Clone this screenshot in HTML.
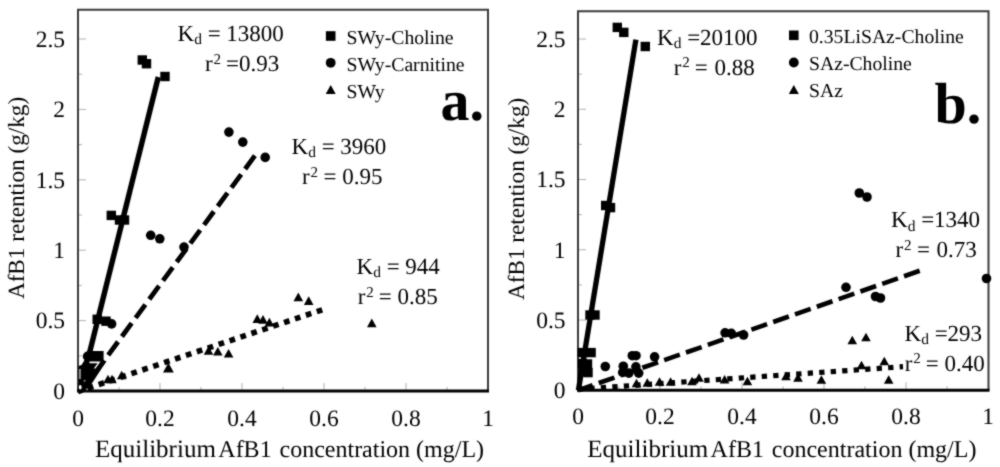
<!DOCTYPE html>
<html><head><meta charset="utf-8"><style>
html,body{margin:0;padding:0;background:#fff;}
svg{display:block;}
#w{width:1000px;height:467px;}
text{font-family:"Liberation Serif", serif;fill:#000;white-space:pre;text-rendering:geometricPrecision;}
</style></head><body><div id="w">
<svg width="1000" height="467" viewBox="0 0 1000 467">
<defs><filter id="soft" x="0" y="0" width="1000" height="467" filterUnits="userSpaceOnUse" color-interpolation-filters="sRGB"><feConvolveMatrix order="3" kernelMatrix="1 2 1 2 12 2 1 2 1" edgeMode="duplicate" preserveAlpha="true"/></filter></defs>
<g filter="url(#soft)">
<rect width="1000" height="467" fill="#fff"/>
<line x1="78" y1="355.80" x2="82" y2="355.80" stroke="#b0b0b0" stroke-width="1"/>
<line x1="78" y1="320.60" x2="86" y2="320.60" stroke="#b0b0b0" stroke-width="1"/>
<line x1="78" y1="285.40" x2="82" y2="285.40" stroke="#b0b0b0" stroke-width="1"/>
<line x1="78" y1="250.20" x2="86" y2="250.20" stroke="#b0b0b0" stroke-width="1"/>
<line x1="78" y1="215.00" x2="82" y2="215.00" stroke="#b0b0b0" stroke-width="1"/>
<line x1="78" y1="179.80" x2="86" y2="179.80" stroke="#b0b0b0" stroke-width="1"/>
<line x1="78" y1="144.60" x2="82" y2="144.60" stroke="#b0b0b0" stroke-width="1"/>
<line x1="78" y1="109.40" x2="86" y2="109.40" stroke="#b0b0b0" stroke-width="1"/>
<line x1="78" y1="74.20" x2="82" y2="74.20" stroke="#b0b0b0" stroke-width="1"/>
<line x1="78" y1="39.00" x2="86" y2="39.00" stroke="#b0b0b0" stroke-width="1"/>
<line x1="119.00" y1="391" x2="119.00" y2="387" stroke="#b0b0b0" stroke-width="1"/>
<line x1="160.00" y1="391" x2="160.00" y2="383" stroke="#b0b0b0" stroke-width="1"/>
<line x1="201.00" y1="391" x2="201.00" y2="387" stroke="#b0b0b0" stroke-width="1"/>
<line x1="242.00" y1="391" x2="242.00" y2="383" stroke="#b0b0b0" stroke-width="1"/>
<line x1="283.00" y1="391" x2="283.00" y2="387" stroke="#b0b0b0" stroke-width="1"/>
<line x1="324.00" y1="391" x2="324.00" y2="383" stroke="#b0b0b0" stroke-width="1"/>
<line x1="365.00" y1="391" x2="365.00" y2="387" stroke="#b0b0b0" stroke-width="1"/>
<line x1="406.00" y1="391" x2="406.00" y2="383" stroke="#b0b0b0" stroke-width="1"/>
<line x1="447.00" y1="391" x2="447.00" y2="387" stroke="#b0b0b0" stroke-width="1"/>
<path d="M78 391V9.7H488V391" fill="none" stroke="#3a3a3a" stroke-width="2"/>
<line x1="77" y1="391" x2="489" y2="391" stroke="#000" stroke-width="3"/>
<line x1="578" y1="355.17" x2="582" y2="355.17" stroke="#b0b0b0" stroke-width="1"/>
<line x1="578" y1="320.04" x2="586" y2="320.04" stroke="#b0b0b0" stroke-width="1"/>
<line x1="578" y1="284.91" x2="582" y2="284.91" stroke="#b0b0b0" stroke-width="1"/>
<line x1="578" y1="249.78" x2="586" y2="249.78" stroke="#b0b0b0" stroke-width="1"/>
<line x1="578" y1="214.65" x2="582" y2="214.65" stroke="#b0b0b0" stroke-width="1"/>
<line x1="578" y1="179.52" x2="586" y2="179.52" stroke="#b0b0b0" stroke-width="1"/>
<line x1="578" y1="144.39" x2="582" y2="144.39" stroke="#b0b0b0" stroke-width="1"/>
<line x1="578" y1="109.26" x2="586" y2="109.26" stroke="#b0b0b0" stroke-width="1"/>
<line x1="578" y1="74.13" x2="582" y2="74.13" stroke="#b0b0b0" stroke-width="1"/>
<line x1="578" y1="39.00" x2="586" y2="39.00" stroke="#b0b0b0" stroke-width="1"/>
<line x1="619.00" y1="390.3" x2="619.00" y2="386.3" stroke="#b0b0b0" stroke-width="1"/>
<line x1="660.00" y1="390.3" x2="660.00" y2="382.3" stroke="#b0b0b0" stroke-width="1"/>
<line x1="701.00" y1="390.3" x2="701.00" y2="386.3" stroke="#b0b0b0" stroke-width="1"/>
<line x1="742.00" y1="390.3" x2="742.00" y2="382.3" stroke="#b0b0b0" stroke-width="1"/>
<line x1="783.00" y1="390.3" x2="783.00" y2="386.3" stroke="#b0b0b0" stroke-width="1"/>
<line x1="824.00" y1="390.3" x2="824.00" y2="382.3" stroke="#b0b0b0" stroke-width="1"/>
<line x1="865.00" y1="390.3" x2="865.00" y2="386.3" stroke="#b0b0b0" stroke-width="1"/>
<line x1="906.00" y1="390.3" x2="906.00" y2="382.3" stroke="#b0b0b0" stroke-width="1"/>
<line x1="947.00" y1="390.3" x2="947.00" y2="386.3" stroke="#b0b0b0" stroke-width="1"/>
<path d="M578 390.3V11.3H988.5V390.3" fill="none" stroke="#3a3a3a" stroke-width="2"/>
<line x1="577" y1="390.3" x2="989.5" y2="390.3" stroke="#000" stroke-width="3"/>
<text x="65" y="398.7" font-size="23.5" text-anchor="end" font-weight="normal" >0</text>
<text x="65" y="328.3" font-size="23.5" text-anchor="end" font-weight="normal" >0.5</text>
<text x="65" y="257.9" font-size="23.5" text-anchor="end" font-weight="normal" >1</text>
<text x="65" y="187.5" font-size="23.5" text-anchor="end" font-weight="normal" >1.5</text>
<text x="65" y="117.1" font-size="23.5" text-anchor="end" font-weight="normal" >2</text>
<text x="65" y="46.7" font-size="23.5" text-anchor="end" font-weight="normal" >2.5</text>
<text x="78.0" y="425.5" font-size="23.5" text-anchor="middle" font-weight="normal" >0</text>
<text x="160.0" y="425.5" font-size="23.5" text-anchor="middle" font-weight="normal" >0.2</text>
<text x="242.0" y="425.5" font-size="23.5" text-anchor="middle" font-weight="normal" >0.4</text>
<text x="324.0" y="425.5" font-size="23.5" text-anchor="middle" font-weight="normal" >0.6</text>
<text x="406.0" y="425.5" font-size="23.5" text-anchor="middle" font-weight="normal" >0.8</text>
<text x="488.0" y="425.5" font-size="23.5" text-anchor="middle" font-weight="normal" >1</text>
<text x="565.5" y="398.0" font-size="23.5" text-anchor="end" font-weight="normal" >0</text>
<text x="565.5" y="327.7" font-size="23.5" text-anchor="end" font-weight="normal" >0.5</text>
<text x="565.5" y="257.5" font-size="23.5" text-anchor="end" font-weight="normal" >1</text>
<text x="565.5" y="187.2" font-size="23.5" text-anchor="end" font-weight="normal" >1.5</text>
<text x="565.5" y="117.0" font-size="23.5" text-anchor="end" font-weight="normal" >2</text>
<text x="565.5" y="46.7" font-size="23.5" text-anchor="end" font-weight="normal" >2.5</text>
<text x="578.0" y="423.5" font-size="23.5" text-anchor="middle" font-weight="normal" >0</text>
<text x="660.0" y="423.5" font-size="23.5" text-anchor="middle" font-weight="normal" >0.2</text>
<text x="742.0" y="423.5" font-size="23.5" text-anchor="middle" font-weight="normal" >0.4</text>
<text x="824.0" y="423.5" font-size="23.5" text-anchor="middle" font-weight="normal" >0.6</text>
<text x="906.0" y="423.5" font-size="23.5" text-anchor="middle" font-weight="normal" >0.8</text>
<text x="988.0" y="423.5" font-size="23.5" text-anchor="middle" font-weight="normal" >1</text>
<text x="95" y="456.6" font-size="25" text-anchor="start" font-weight="normal" >Equilibrium</text>
<text x="218.3" y="456.6" font-size="24" text-anchor="start" font-weight="normal" >AfB1</text>
<text x="279.5" y="456.6" font-size="24" text-anchor="start" font-weight="normal" >concentration (mg/L)</text>
<text transform="translate(24.3,299.1) rotate(-90)" font-size="23.2">AfB1 retention (g/kg)</text>
<text x="587.3" y="456.6" font-size="25" text-anchor="start" font-weight="normal" >Equilibrium</text>
<text x="710.6" y="456.6" font-size="24" text-anchor="start" font-weight="normal" >AfB1</text>
<text x="771.8" y="456.6" font-size="24" text-anchor="start" font-weight="normal" >concentration (mg/L)</text>
<text transform="translate(524.3,300.0) rotate(-90)" font-size="23.2">AfB1 retention (g/kg)</text>
<line x1="80" y1="391" x2="158.3" y2="77" stroke="#000" stroke-width="5.4" stroke-linecap="butt"/>
<line x1="254.9" y1="155.7" x2="81.8" y2="391" stroke="#000" stroke-width="4.8" stroke-linecap="butt" stroke-dasharray="16.5 6.6" stroke-dashoffset="0"/>
<line x1="78" y1="391.5" x2="324" y2="309.2" stroke="#000" stroke-width="5.6" stroke-linecap="butt" stroke-dasharray="5.7 5.8" stroke-dashoffset="1.2"/>
<line x1="578.4" y1="390.3" x2="635.9" y2="39.6" stroke="#000" stroke-width="5.3" stroke-linecap="butt"/>
<line x1="578" y1="390.3" x2="920.5" y2="270.5" stroke="#000" stroke-width="4.6" stroke-linecap="butt" stroke-dasharray="16.6 6.5" stroke-dashoffset="1.1"/>
<line x1="578" y1="389.3" x2="903" y2="366.7" stroke="#000" stroke-width="5.2" stroke-linecap="butt" stroke-dasharray="5.3 6.22" stroke-dashoffset="0.15"/>
<g fill="#000"><rect x="137.60" y="55.30" width="9.4" height="9.4"/><rect x="141.80" y="59.00" width="9.4" height="9.4"/><rect x="160.30" y="71.80" width="9.4" height="9.4"/><rect x="106.60" y="210.70" width="9.4" height="9.4"/><rect x="114.80" y="215.30" width="9.4" height="9.4"/><rect x="119.80" y="215.30" width="9.4" height="9.4"/><rect x="92.50" y="314.60" width="9.4" height="9.4"/><rect x="101.30" y="316.50" width="9.4" height="9.4"/><rect x="612.60" y="22.70" width="9.4" height="9.4"/><rect x="619.10" y="27.70" width="9.4" height="9.4"/><rect x="640.60" y="41.80" width="9.4" height="9.4"/><rect x="601.00" y="200.80" width="9.4" height="9.4"/><rect x="605.80" y="202.90" width="9.4" height="9.4"/><rect x="585.30" y="310.30" width="9.4" height="9.4"/><rect x="590.30" y="310.30" width="9.4" height="9.4"/><rect x="577.50" y="347.90" width="9.4" height="9.4"/><rect x="586.40" y="347.90" width="9.4" height="9.4"/><rect x="577.80" y="358.80" width="9.4" height="9.4"/><rect x="582.80" y="359.30" width="9.4" height="9.4"/><rect x="578.30" y="366.80" width="9.4" height="9.4"/><rect x="583.30" y="367.90" width="9.4" height="9.4"/><circle cx="228.9" cy="132.1" r="4.8"/><circle cx="242.8" cy="142.1" r="4.8"/><circle cx="265.2" cy="157.4" r="4.8"/><circle cx="150.7" cy="235.3" r="4.8"/><circle cx="159.8" cy="238.8" r="4.8"/><circle cx="184" cy="247.1" r="4.8"/><circle cx="111.6" cy="323.9" r="4.8"/><circle cx="605.3" cy="366.5" r="4.8"/><circle cx="632.3" cy="355.7" r="4.8"/><circle cx="636" cy="355.7" r="4.8"/><circle cx="654.6" cy="356.8" r="4.8"/><circle cx="623.3" cy="366.2" r="4.8"/><circle cx="635.9" cy="366.9" r="4.8"/><circle cx="622.7" cy="372.4" r="4.8"/><circle cx="628.9" cy="373.1" r="4.8"/><circle cx="638.7" cy="373.1" r="4.8"/><circle cx="725.1" cy="332.8" r="4.8"/><circle cx="731.3" cy="333.4" r="4.8"/><circle cx="743.6" cy="335" r="4.8"/><circle cx="846" cy="287.3" r="4.8"/><circle cx="875.5" cy="296.5" r="4.8"/><circle cx="880.5" cy="298" r="4.8"/><circle cx="859.3" cy="193" r="4.8"/><circle cx="867" cy="197" r="4.8"/><circle cx="986.5" cy="278.5" r="4.8"/><path d="M168.40 362.80L173.80 372.40L163.00 372.40Z"/><path d="M208.50 346.20L213.30 354.80L203.70 354.80Z"/><path d="M217.80 346.90L222.60 355.50L213.00 355.50Z"/><path d="M228.60 348.90L233.40 357.50L223.80 357.50Z"/><path d="M257.30 314.30L262.10 322.90L252.50 322.90Z"/><path d="M263.00 315.10L267.80 323.70L258.20 323.70Z"/><path d="M269.40 317.80L274.20 326.40L264.60 326.40Z"/><path d="M298.30 292.60L303.10 301.20L293.50 301.20Z"/><path d="M308.70 296.30L313.50 304.90L303.90 304.90Z"/><path d="M371.80 318.60L376.60 327.20L367.00 327.20Z"/><path d="M108.00 374.70L112.80 383.30L103.20 383.30Z"/><path d="M112.00 374.70L116.80 383.30L107.20 383.30Z"/><path d="M121.70 370.70L126.50 379.30L116.90 379.30Z"/><path d="M636.50 378.70L641.30 387.30L631.70 387.30Z"/><path d="M647.30 378.20L652.10 386.80L642.50 386.80Z"/><path d="M659.50 377.20L664.30 385.80L654.70 385.80Z"/><path d="M670.60 377.20L675.40 385.80L665.80 385.80Z"/><path d="M692.00 376.70L696.80 385.30L687.20 385.30Z"/><path d="M699.00 373.20L703.80 381.80L694.20 381.80Z"/><path d="M724.60 375.00L729.40 383.60L719.80 383.60Z"/><path d="M747.40 376.70L752.20 385.30L742.60 385.30Z"/><path d="M786.00 371.70L790.80 380.30L781.20 380.30Z"/><path d="M798.00 373.20L802.80 381.80L793.20 381.80Z"/><path d="M821.40 375.20L826.20 383.80L816.60 383.80Z"/><path d="M852.30 335.70L857.10 344.30L847.50 344.30Z"/><path d="M866.00 332.70L870.80 341.30L861.20 341.30Z"/><path d="M861.50 360.70L866.30 369.30L856.70 369.30Z"/><path d="M884.30 356.70L889.10 365.30L879.50 365.30Z"/><path d="M888.70 375.20L893.50 383.80L883.90 383.80Z"/></g>
<path d="M87 351.1L103.6 351.1L103.6 361L106.5 361L91.5 384L89 387L86 392L78.5 392L78.5 366L81.5 365L84 361Z" fill="#000"/>
<circle cx="87.6" cy="356.4" r="4.8" fill="#000"/>
<path d="M89.5 361.4L100.5 361.4L95.5 368.5L93.8 368.5L97.6 363.2L89.5 363.2Z" fill="#fff"/>
<rect x="79.3" y="369" width="1.3" height="10" fill="#d8d8d8"/>
<ellipse cx="80.2" cy="387.3" rx="1.4" ry="2.2" fill="#fff"/>
<circle cx="84.6" cy="380.8" r="1.1" fill="#777"/>
<circle cx="87" cy="389.4" r="1.1" fill="#777"/>
<g fill="#000"><rect x="325.90" y="31.20" width="9.6" height="9.6"/></g>
<text x="346.5" y="43.5" font-size="19.7" text-anchor="start" font-weight="normal" >SWy-Choline</text>
<g fill="#000"><circle cx="330.7" cy="62.8" r="4.9"/></g>
<text x="346.5" y="70.5" font-size="19.7" text-anchor="start" font-weight="normal" >SWy-Carnitine</text>
<g fill="#000"><path d="M330.70 85.10L335.70 93.90L325.70 93.90Z"/></g>
<text x="346.5" y="97.5" font-size="19.7" text-anchor="start" font-weight="normal" >SWy</text>
<g fill="#000"><rect x="789.00" y="30.50" width="9.6" height="9.6"/></g>
<text x="809" y="43.1" font-size="19.7" text-anchor="start" font-weight="normal" >0.35LiSAz-Choline</text>
<g fill="#000"><circle cx="793.8" cy="62.5" r="4.9"/></g>
<text x="809" y="69.8" font-size="19.7" text-anchor="start" font-weight="normal" >SAz-Choline</text>
<g fill="#000"><path d="M793.80 85.10L798.80 93.90L788.80 93.90Z"/></g>
<text x="809" y="96.6" font-size="19.7" text-anchor="start" font-weight="normal" >SAz</text>
<text transform="translate(440.5,119.5) scale(1,1)" font-size="58" font-weight="bold">a.</text>
<text x="934.5" y="123" font-size="58" text-anchor="start" font-weight="bold" >b.</text>
<text x="177.5" y="40.8" font-size="23">K<tspan font-size="15.5" dy="3.6">d</tspan><tspan dy="-3.6"> = 13800</tspan></text>
<text x="205" y="71.2" font-size="23">r<tspan font-size="15" dy="-7.3" dx="0.8">2</tspan><tspan dy="7.3" dx="-0.8"> =0.93</tspan></text>
<text x="291.5" y="153.8" font-size="23">K<tspan font-size="15.5" dy="3.6">d</tspan><tspan dy="-3.6"> = 3960</tspan></text>
<text x="302" y="184" font-size="23">r<tspan font-size="15" dy="-7.3" dx="0.8">2</tspan><tspan dy="7.3" dx="-0.30000000000000004"> =</tspan><tspan dx="0"> 0.95</tspan></text>
<text x="356.5" y="273.5" font-size="23">K<tspan font-size="15.5" dy="3.6">d</tspan><tspan dy="-3.6"> = 944</tspan></text>
<text x="357.8" y="304.2" font-size="23">r<tspan font-size="15" dy="-7.3" dx="0.8">2</tspan><tspan dy="7.3" dx="-0.8"> = 0.85</tspan></text>
<text x="657" y="44.6" font-size="23">K<tspan font-size="15.5" dy="3.6">d</tspan><tspan dy="-3.6"> =20100</tspan></text>
<text x="673.8" y="74.5" font-size="23">r<tspan font-size="15" dy="-7.3" dx="0.8">2</tspan><tspan dy="7.3" dx="-0.8"> =</tspan><tspan dx="1.0"> 0.88</tspan></text>
<text x="891" y="227.4" font-size="23">K<tspan font-size="15.5" dy="3.6">d</tspan><tspan dy="-3.6"> =1340</tspan></text>
<text x="895.5" y="257" font-size="23">r<tspan font-size="15" dy="-7.3" dx="0.8">2</tspan><tspan dy="7.3" dx="-0.30000000000000004"> =</tspan><tspan dx="0.8"> 0.73</tspan></text>
<text x="904.5" y="340.8" font-size="23">K<tspan font-size="15.5" dy="3.6">d</tspan><tspan dy="-3.6"> =293</tspan></text>
<text x="904.8" y="370.5" font-size="23">r<tspan font-size="15" dy="-7.3" dx="0.8">2</tspan><tspan dy="7.3" dx="-0.8"> = 0.40</tspan></text>
</g>
</svg></div>
</body></html>
